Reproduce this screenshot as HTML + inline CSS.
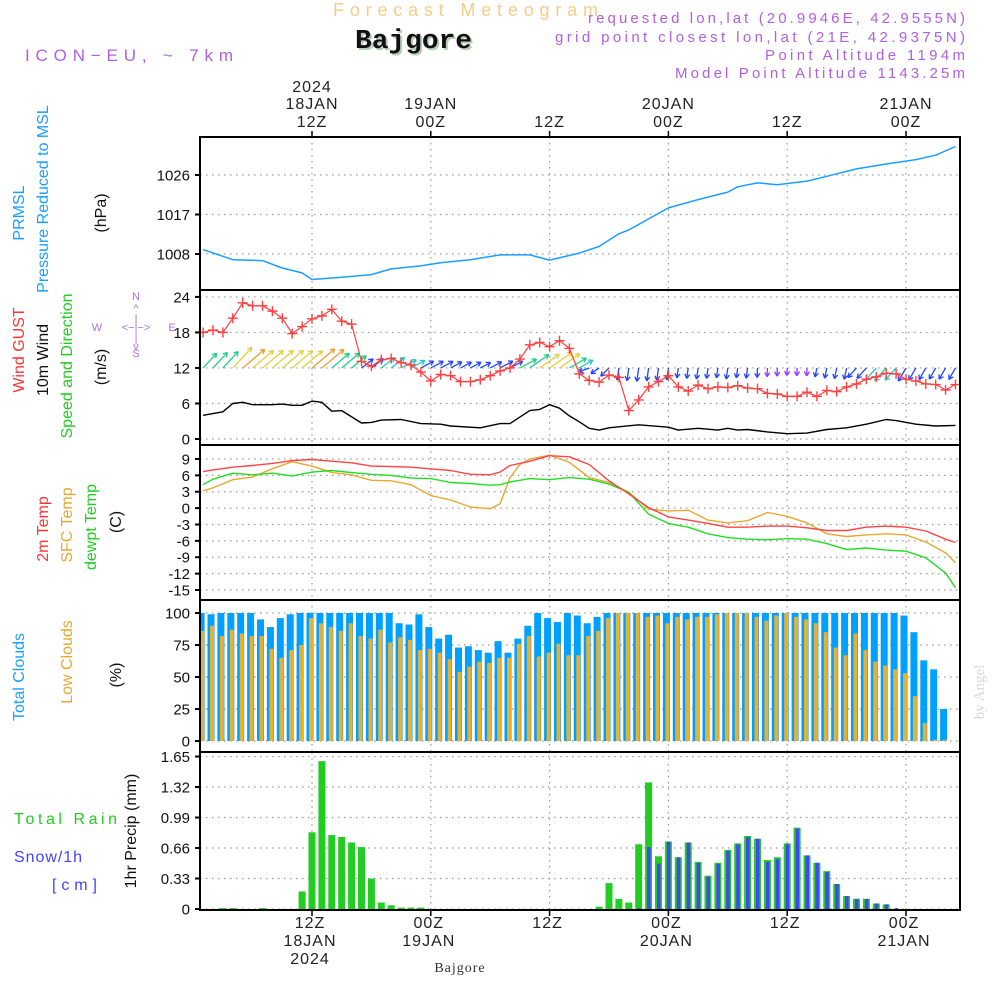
<!DOCTYPE html>
<html><head><meta charset="utf-8"><style>
html,body{margin:0;padding:0;background:#fff}
svg{display:block;font-family:"Liberation Sans",sans-serif}
</style></head><body>
<svg id="chart" width="1000" height="1000" viewBox="0 0 1000 1000" xmlns="http://www.w3.org/2000/svg">
<rect width="1000" height="1000" fill="#fff"/>
<g>
<text x="333" y="16" font-size="18" fill="#f5cd8a" textLength="265" lengthAdjust="spacing">Forecast Meteogram</text>
<text x="357" y="50" font-family="Liberation Mono,monospace" font-weight="bold" font-size="27" fill="#b8ccb8" textLength="117" lengthAdjust="spacingAndGlyphs">Bajgore</text>
<text x="355" y="48" font-family="Liberation Mono,monospace" font-weight="bold" font-size="27" fill="#111" textLength="117" lengthAdjust="spacingAndGlyphs">Bajgore</text>
<text x="25" y="61" font-size="17" fill="#b060e0" textLength="208" lengthAdjust="spacing">ICON−EU, ~ 7km</text>
<text x="588" y="23" font-size="15" fill="#b060e0" textLength="377" lengthAdjust="spacing">requested lon,lat (20.9946E, 42.9555N)</text>
<text x="555" y="42" font-size="15" fill="#b060e0" textLength="410" lengthAdjust="spacing">grid point closest lon,lat (21E, 42.9375N)</text>
<text x="765" y="60" font-size="15" fill="#b060e0" textLength="200" lengthAdjust="spacing">Point Altitude 1194m</text>
<text x="675" y="78" font-size="15" fill="#b060e0" textLength="290" lengthAdjust="spacing">Model Point Altitude 1143.25m</text>
</g>
<g font-size="16">
<text transform="translate(24,213) rotate(-90)" text-anchor="middle" fill="#1a9fff">PRMSL</text>
<text transform="translate(48,199) rotate(-90)" text-anchor="middle" fill="#1a9fff">Pressure Reduced to MSL</text>
<text transform="translate(106,213) rotate(-90)" text-anchor="middle" fill="#111">(hPa)</text>
<text transform="translate(24,350) rotate(-90)" text-anchor="middle" fill="#ff3333">Wind GUST</text>
<text transform="translate(48,360) rotate(-90)" text-anchor="middle" fill="#111">10m Wind</text>
<text transform="translate(72,366) rotate(-90)" text-anchor="middle" fill="#22cc22">Speed and Direction</text>
<text transform="translate(106,367) rotate(-90)" text-anchor="middle" fill="#111">(m/s)</text>
<g fill="#b070e0" font-size="11" text-anchor="middle">
<text x="136" y="300">N</text><text x="136" y="312">^</text><text x="136" y="322">|</text>
<text x="97" y="331">W</text><text x="136" y="331">&lt;−|−&gt;</text><text x="172" y="331">E</text>
<text x="136" y="342">|</text><text x="136" y="350">v</text><text x="136" y="357">S</text>
</g>
<text transform="translate(48,529) rotate(-90)" text-anchor="middle" fill="#ff3333">2m Temp</text>
<text transform="translate(72,525) rotate(-90)" text-anchor="middle" fill="#e8a830">SFC Temp</text>
<text transform="translate(96,527) rotate(-90)" text-anchor="middle" fill="#22cc22">dewpt Temp</text>
<text transform="translate(121,522) rotate(-90)" text-anchor="middle" fill="#111">(C)</text>
<text transform="translate(24,677) rotate(-90)" text-anchor="middle" fill="#1a9fff">Total Clouds</text>
<text transform="translate(72,662) rotate(-90)" text-anchor="middle" fill="#e8a830">Low Clouds</text>
<text transform="translate(121,675) rotate(-90)" text-anchor="middle" fill="#111">(%)</text>
<text x="14" y="824" fill="#22cc22" textLength="103" lengthAdjust="spacing">Total  Rain</text>
<text x="14" y="862" fill="#4444ff" textLength="68" lengthAdjust="spacing">Snow/1h</text>
<text x="52" y="890" fill="#4444ff" textLength="45" lengthAdjust="spacing">[cm]</text>
<text transform="translate(136,831) rotate(-90)" text-anchor="middle" fill="#111">1hr Precip (mm)</text>
<text transform="translate(984,692) rotate(-90)" text-anchor="middle" font-family="Liberation Serif,serif" font-size="15" fill="#d8d8d8">by Angel</text>
<text x="460" y="972" text-anchor="middle" font-family="Liberation Serif,serif" font-size="14" fill="#333" letter-spacing="1">Bajgore</text>
</g>
<g id="plots"></g>
</svg>
<script>
// ---- data (hours since 18 JAN 00Z) ----
const presHours = [1,4,7,9,11,12,15,18,20,23,25,28,31,34,36,39,41,43,44,46,48,51,54,55,57,59,62,64,67,70,73,75,77];
const presVals = [1009.0,1006.7,1006.5,1004.8,1003.7,1002.2,1002.7,1003.3,1004.6,1005.3,1006.0,1006.7,1007.8,1007.8,1006.6,1008.2,1009.7,1012.6,1013.5,1016.0,1018.5,1020.4,1022.1,1023.3,1024.2,1023.8,1024.6,1025.7,1027.4,1028.5,1029.5,1030.5,1032.5];
const gustVals = [18.0,18.4,18.0,20.4,23.0,22.5,22.5,21.6,20.4,17.8,19.0,20.3,20.8,21.9,19.9,19.4,13.1,12.3,13.4,13.6,12.9,12.5,11.3,9.8,10.9,10.7,9.7,9.7,10.0,10.7,11.5,12.0,13.5,15.9,16.3,15.6,16.6,15.3,11.0,
 9.9,9.6,10.8,10.4,4.8,6.6,8.8,9.7,10.7,8.8,8.1,9.1,8.5,8.8,8.7,9.0,8.6,8.5,7.7,7.6,7.2,7.2,7.9,7.2,8.2,8.0,8.8,9.3,10.1,10.5,11.1,11.0,10.1,9.8,9.3,9.2,8.3,9.2];
const windHours = [1,3,4,5,6,8,9,10,11,12,13,14,15,17,18,19,21,23,25,26,29,31,32,34,35,36,37,38,39,40,41,42,45,48,49,51,53,54,55,56,58,60,62,64,66,68,70,71,73,75,77];
const windVals = [4.0,4.6,6.0,6.2,5.8,5.8,5.9,5.7,5.7,6.4,6.2,4.7,4.8,2.7,2.8,3.2,3.3,2.6,2.5,2.2,1.9,2.6,2.6,4.8,5.0,5.8,5.2,3.9,2.9,1.8,1.5,1.9,2.4,2.0,1.5,1.8,1.5,1.8,1.5,1.6,1.2,0.9,1.0,1.6,1.9,2.5,3.3,3.1,2.5,2.2,2.3];
const windDir = [47,47,47,47,40,40,40,40,40,40,40,40,40,40,40,40,38,38,38,38,28,28,28,28,28,28,28,28,28,28,28,28,28,35,35,35,35,30,30,
 200,215,225,262,262,262,262,262,262,262,262,262,262,262,262,262,262,268,268,268,268,268,268,258,258,258,258,228,228,228,228,228,240,240,240,240,240,240];
const tempHours = [1,2,4,6,8,10,12,14,16,18,20,22,24,26,28,30,31,32,33,34,36,38,40,42,44,46,48,50,52,54,56,58,60,62,64,66,68,70,72,74,76,77];
const temp2m = [6.7,7.0,7.5,7.8,8.2,8.7,8.9,8.6,8.3,7.7,7.6,7.5,7.2,6.9,6.2,6.1,6.6,7.8,8.2,8.6,9.6,9.4,8.0,5.0,2.6,0.1,-1.6,-2.2,-2.8,-3.5,-3.5,-3.3,-3.3,-3.6,-4.1,-4.1,-3.5,-3.3,-3.5,-4.2,-5.7,-6.3];
const tempSfc = [3.2,3.7,5.2,5.7,7.2,8.5,7.7,6.5,6.1,5.1,5.0,4.3,2.3,1.5,0.2,-0.1,0.8,5.6,8.0,9.0,9.7,8.4,5.6,4.7,2.9,-0.2,-0.5,-0.4,-2.2,-2.7,-2.3,-0.8,-1.5,-2.7,-4.7,-5.2,-4.9,-4.7,-4.9,-6.2,-8.2,-10.0];
const tempDew = [4.3,5.3,6.4,6.1,6.4,5.9,6.6,6.9,6.5,6.2,6.0,5.5,5.4,4.7,4.5,4.2,4.3,4.8,5.1,5.4,5.2,5.6,5.3,4.4,2.9,-1.1,-2.8,-3.5,-4.7,-5.4,-5.7,-5.8,-5.6,-5.7,-6.5,-7.6,-7.3,-7.7,-7.9,-9.1,-11.9,-14.6];
const cloudTotal = [100,99,100,100,100,100,95,89,96,99,100,100,100,100,100,100,100,100,100,100,92,91,99,89,80,83,73,74,71,69,78,69,80,90,100,96,93,100,98,
 92,97,100,100,100,100,100,100,100,100,100,100,100,100,100,100,100,100,100,100,100,100,100,100,100,100,100,100,100,100,100,100,98,85,63,56,25];
const cloudLow = [86,90,82,87,84,82,82,72,65,71,75,96,92,89,86,92,82,80,87,77,81,79,71,72,69,64,54,58,62,61,65,65,76,82,66,69,76,67,67,
 82,86,96,100,100,100,97,98,92,97,95,97,97,99,100,100,100,97,94,98,100,97,95,92,85,73,67,84,71,62,59,56,53,35,14,1,1,0];
const rainVals = [0,0,0.01,0.01,0,0,0.01,0,0,0,0.19,0.83,1.6,0.80,0.78,0.72,0.67,0.33,0.07,0.04,0.015,0.015,0.015,
 0,0,0,0,0,0,0,0,0,0,0,0,0,0,0,0,0,
 0.025,0.28,0.11,0.07,0.70,1.37,0.57,0.73,0.56,0.72,0.51,0.36,0.50,0.64,0.71,0.79,0.76,0.53,0.56,0.71,0.88,0.58,0.50,0.41,0.27,0.14,0.11,0.11,0.06,0.05,
 0,0,0,0,0,0,0];
const snowVals = [0,0,0,0,0,0,0,0,0,0,0,0,0,0,0,0,0,0,0,0,0,0,0,0,0,0,0,0,0,0,0,0,0,0,0,0,0,0,0,0,0,0,0,0,
 0.01,0.67,0.49,0.73,0.56,0.72,0.50,0.35,0.49,0.63,0.70,0.78,0.76,0.51,0.54,0.70,0.87,0.58,0.50,0.40,0.27,0.14,0.11,0.11,0.06,0.05,0.01,0,0,0,0,0,0];
const presTicks = [1008,1017,1026];
const windTicks = [0,6,12,18,24];
const tempTicks = [9,6,3,0,-3,-6,-9,-12,-15];
const cloudTicks = [0,25,50,75,100];
const precipTicks = [0,0.33,0.66,0.99,1.32,1.65];
const gridHours = [12,24,36,48,60,72];
const topLabels = [["2024","18JAN","12Z"],["","19JAN","00Z"],["","","12Z"],["","20JAN","00Z"],["","","12Z"],["","21JAN","00Z"]];
const botLabels = [["12Z","18JAN","2024"],["00Z","19JAN",""],["12Z","",""],["00Z","20JAN",""],["12Z","",""],["00Z","21JAN",""]];

// ---- scales ----
const L = 200, R = 960;
const X = h => 312 + (h - 12) * 9.9;
const yP = v => 254 - (v - 1008) * 4.389;
const yW = v => 439 - v * 5.92;
const yT = v => 459 + (9 - v) * 5.458;
const yC = v => 741 - v * 1.28;
const yR = v => 909 - v * 92.4;
const panels = [[137,290],[290,445],[445,600],[600,752],[752,910]];

const NS = "http://www.w3.org/2000/svg";
const root = document.getElementById('plots');
function mk(tag, attrs, parent) {
  const e = document.createElementNS(NS, tag);
  for (const k in attrs) e.setAttribute(k, attrs[k]);
  (parent || root).appendChild(e);
  return e;
}
function interp(hs, vs, h) {
  if (h <= hs[0]) return vs[0];
  for (let i = 1; i < hs.length; i++) if (h <= hs[i]) { const t = (h - hs[i-1]) / (hs[i] - hs[i-1]); return vs[i-1] + t * (vs[i] - vs[i-1]); }
  return vs[vs.length - 1];
}
const defs = mk('defs', {});
panels.forEach((p, i) => {
  const cp = mk('clipPath', {id: 'clip' + i}, defs);
  mk('rect', {x: L, y: p[0], width: R - L, height: p[1] - p[0]}, cp);
});

function grid(pi, ticks, yf, fmt) {
  const g = mk('g', {});
  
  
  const [t, b] = panels[pi];
  gridHours.forEach(h => {
    const l = mk('line', {x1: X(h), x2: X(h), y1: t, y2: b, stroke: '#999', 'stroke-width': 1.2, 'stroke-dasharray': '1.5 4.5'}, g);
    
    
  });
  ticks.forEach(v => {
    const y = yf(v);
    const l = mk('line', {x1: L, x2: R, y1: y, y2: y, stroke: '#999', 'stroke-width': 1.2, 'stroke-dasharray': '1.5 4.5'}, g);
    
    
    const tk = mk('line', {x1: L - 5, x2: L, y1: y, y2: y, stroke: '#000', 'stroke-width': 2}, g);
    
    
    const tx = mk('text', {x: 190, y: y + 5.5, 'text-anchor': 'end', 'font-size': 15, fill: '#111'}, g);
    
    
    tx.textContent = fmt ? fmt(v) : String(v);
  });
}
grid(0, presTicks, yP);
grid(1, windTicks, yW);
grid(2, tempTicks, yT);
grid(3, cloudTicks, yC);
grid(4, precipTicks, yR, v => v === 0 ? '0' : v.toFixed(2));

function polyline(hs, vs, yf, color, name, pi, w) {
  const pts = hs.map((h, i) => X(h).toFixed(1) + ',' + yf(vs[i]).toFixed(1)).join(' ');
  const pl = mk('polyline', {points: pts, fill: 'none', stroke: color, 'stroke-width': w || 1.4, 'clip-path': 'url(#clip' + pi + ')', 'stroke-linejoin': 'round'});
  
  
}
// pressure
polyline(presHours, presVals, yP, '#1a9fff', 'pressure-line', 0, 1.5);

// wind arrows
const arrowG = mk('g', {'clip-path': 'url(#clip1)'});


function windColor(s) {
  if (s < 1.3) return '#9933ff';
  if (s < 2.9) return '#2244ff';
  if (s < 3.6) return '#22c8c8';
  if (s < 5.0) return '#22cc88';
  if (s < 6.2) return '#e0d040';
  return '#e8a030';
}
windDir.forEach((d, i) => {
  const h = i + 1;
  const s = interp(windHours, windVals, h);
  const len = 4 + 4 * s;
  const a = d * Math.PI / 180;
  const x0 = X(h), y0 = yW(12);
  const x1 = x0 + len * Math.cos(a), y1 = y0 - len * Math.sin(a);
  const c = windColor(s);
  const g = mk('g', {stroke: c, 'stroke-width': 1.3, fill: 'none'}, arrowG);
  
  
  mk('line', {x1: x0, y1: y0, x2: x1, y2: y1}, g);
  [150, -150].forEach(off => {
    const b = a + off * Math.PI / 180;
    mk('line', {x1: x1, y1: y1, x2: x1 + 5 * Math.cos(b), y2: y1 - 5 * Math.sin(b)}, g);
  });
});
// wind speed line
polyline(windHours, windVals, yW, '#000', 'wind-speed-line', 1, 1.4);
// gusts
const gustHours = gustVals.map((v, i) => i + 1);
polyline(gustHours, gustVals, yW, '#ff4040', 'gust-line', 1, 1.2);
const gm = mk('g', {stroke: '#ff4040', 'stroke-width': 1.4, 'clip-path': 'url(#clip1)'});


gustVals.forEach((v, i) => {
  const x = X(i + 1), y = yW(v);
  const p = mk('path', {d: `M${x-5},${y}H${x+5}M${x},${y-5}V${y+5}`}, gm);
  
  
});
// temps
polyline(tempHours, tempSfc, yT, '#e8a830', 'sfc-temp-line', 2);
polyline(tempHours, tempDew, yT, '#22dd22', 'dewpt-line', 2);
polyline(tempHours, temp2m, yT, '#ff4444', 't2m-line', 2);
// clouds
const cg = mk('g', {'clip-path': 'url(#clip3)'});


cloudTotal.forEach((v, i) => {
  const x = X(i + 1) - 2;
  const b = mk('rect', {x: x - 3.5, y: yC(v), width: 7, height: yC(0) - yC(v), fill: '#00a0ff'}, cg);
  
  
  const lv = cloudLow[i];
  const o = mk('rect', {x: x - 1, y: yC(lv), width: 4, height: yC(0) - yC(lv), fill: '#e8b030'}, cg);
  
  
});
// precip
const pg = mk('g', {'clip-path': 'url(#clip4)'});


rainVals.forEach((v, i) => {
  const x = X(i + 1);
  if (v > 0) {
    const b = mk('rect', {x: x - 3.5, y: yR(v), width: 7, height: yR(0) - yR(v), fill: '#22cc22'}, pg);
    
    
  }
  const s = snowVals[i];
  if (s > 0) {
    const sb = mk('rect', {x: x - 1.5, y: yR(s), width: 3.5, height: yR(0) - yR(s), fill: '#4444ff'}, pg);
    
    
  }
});
// frames
const fg = mk('g', {fill: 'none', stroke: '#000', 'stroke-width': 2});


panels.forEach(p => {
  const r = mk('rect', {x: L, y: p[0], width: R - L, height: p[1] - p[0]}, fg);
  
  
});
// time axes
const ta = mk('g', {'font-size': 16, fill: '#222', 'text-anchor': 'middle'});


gridHours.forEach((h, i) => {
  const x = X(h);
  mk('line', {x1: x, x2: x, y1: 131, y2: 137, stroke: '#000', 'stroke-width': 1.5}, ta);
  mk('line', {x1: x, x2: x, y1: 910, y2: 916, stroke: '#000', 'stroke-width': 1.5}, ta);
  [92, 109, 127].forEach((y, j) => {
    if (!topLabels[i][j]) return;
    const t = mk('text', {x: x, y: y, 'letter-spacing': 1}, ta);
    
    
    t.textContent = topLabels[i][j];
  });
  [928, 946, 964].forEach((y, j) => {
    if (!botLabels[i][j]) return;
    const t = mk('text', {x: x - 2, y: y, 'letter-spacing': 1}, ta);
    
    
    t.textContent = botLabels[i][j];
  });
});
</script>
</body></html>
